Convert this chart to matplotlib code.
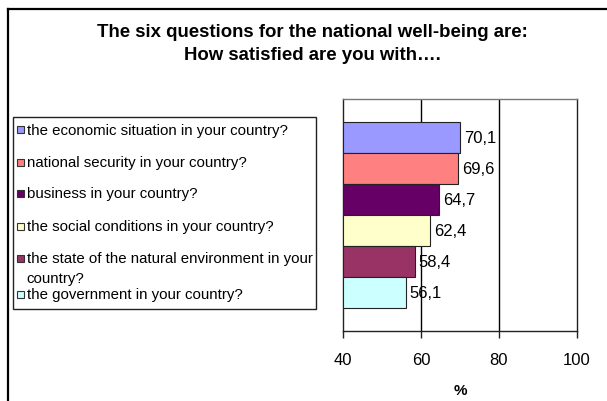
import matplotlib
matplotlib.use("Agg")
import matplotlib.pyplot as plt
from matplotlib.patches import Rectangle
from matplotlib.lines import Line2D

plt.rcParams['font.family'] = ['Liberation Sans', 'DejaVu Sans']

# Survey results: share satisfied (%)
questions = [
    "the economic situation in your country?",
    "national security in your country?",
    "business in your country?",
    "the social conditions in your country?",
    "the state of the natural environment in your\ncountry?",
    "the government in your country?",
]
values = [70.1, 69.6, 64.7, 62.4, 58.4, 56.1]
value_labels = ["70,1", "69,6", "64,7", "62,4", "58,4", "56,1"]
colors = ["#9999FF", "#FF8080", "#660066", "#FFFFCC", "#993366", "#CCFFFF"]
x_ticks = [40, 60, 80, 100]

W, H = 607, 402
fig = plt.figure(figsize=(W / 100, H / 100), dpi=100)

def fx(px):
    return px / W

def fy(py):
    return 1 - py / H

# Plot area
ax = fig.add_axes([fx(343), fy(332), fx(577) - fx(343), fy(100) - fy(332)])
ax.set_xlim(40, 100)
ax.set_ylim(0, 1)

n = len(values)
gap = 1.5  # gap width 150 % of a bar
h = 1 / (n + gap)
for i, (v, c, lab) in enumerate(zip(values, colors, value_labels)):
    yc = 1 - gap / 2 * h - (i + 0.5) * h
    ax.barh(yc, v - 40, left=40, height=h, color=c, edgecolor="#222222",
            linewidth=0.8, zorder=3)
    ax.annotate(lab, xy=(v, yc), xytext=(2.5, 0), textcoords="offset points",
                va="center", ha="left", fontsize=12, color="black", zorder=4)

for gx in x_ticks[1:-1]:
    ax.axvline(gx, color="black", linewidth=1.0, zorder=1)

for s in ax.spines.values():
    s.set_color("#222222")
    s.set_linewidth(1.0)
ax.spines["top"].set_color("#777777")

ax.set_xticks(x_ticks)
ax.set_xticklabels([str(t) for t in x_ticks], fontsize=12)
ax.tick_params(axis="x", direction="out", length=5, width=1, color="#222222", pad=10)
ax.set_yticks([])
ax.set_xlabel("%", fontsize=11, fontweight="bold", labelpad=12)

# Title
fig.text(fx(312.5), fy(32.5), "The six questions for the national well-being are:",
         ha="center", va="center", fontsize=13.4, fontweight="bold")
fig.text(fx(312.5), fy(56), "How satisfied are you with\u2026.",
         ha="center", va="center", fontsize=13.4, fontweight="bold")

# Legend box
fig.patches.append(Rectangle((fx(12.7), fy(310)), fx(316) - fx(12.7), fy(118.3) - fy(310),
                             transform=fig.transFigure, fill=False,
                             edgecolor="#222222", linewidth=1.0))
entry_y = [130.7, 163.3, 194.5, 227, 259, 295]
line_step = 20  # spacing of wrapped lines within one entry
for q, c, ey in zip(questions, colors, entry_y):
    fig.patches.append(Rectangle((fx(16.5), fy(ey + 3.5)), fx(7), fy(0) - fy(7),
                                 transform=fig.transFigure, facecolor=c,
                                 edgecolor="#333333", linewidth=0.8))
    for k, line in enumerate(q.split("\n")):
        fig.text(fx(26.5), fy(ey + k * line_step), line, ha="left", va="center",
                 fontsize=10.8)

# Outer frame (top and left edges)
fig.add_artist(Line2D([fx(8), 1], [fy(9.5), fy(9.5)], transform=fig.transFigure,
                      color="black", linewidth=1.6))
fig.add_artist(Line2D([fx(8), fx(8)], [fy(9.5), 0], transform=fig.transFigure,
                      color="black", linewidth=1.6))

fig.savefig("out.png", dpi=100)
